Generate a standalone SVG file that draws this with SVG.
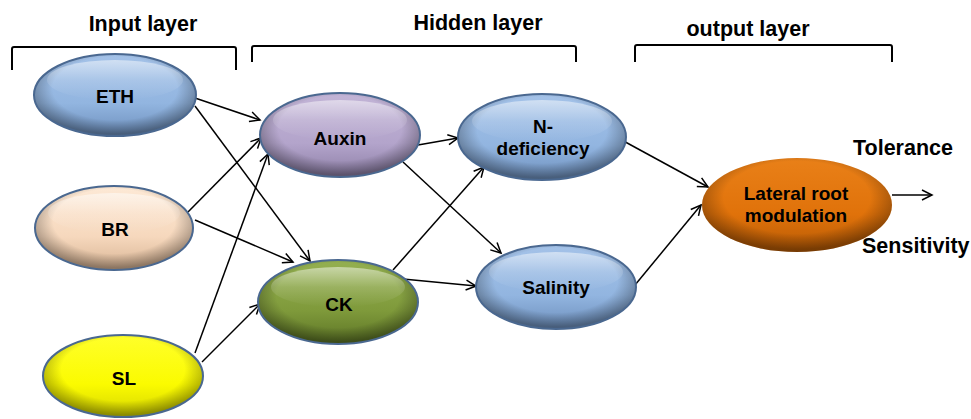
<svg xmlns="http://www.w3.org/2000/svg" width="971" height="419" viewBox="0 0 971 419">
<style>
text{font-family:"Liberation Sans",Arial,sans-serif;font-weight:bold;fill:#000}
.title{font-size:21.5px}
.lbl{font-size:19px;text-anchor:middle}
.brk{fill:none;stroke:#000;stroke-width:2}
.rim{fill:none;stroke:#4a6890;stroke-width:2}
.hl{fill:url(#hi)}
.con line{stroke:#000;stroke-width:1.5;marker-end:url(#arr)}
</style>
<defs>
<marker id="arr" markerUnits="userSpaceOnUse" markerWidth="14" markerHeight="14" refX="11" refY="6" orient="auto">
<path d="M1,1 L11,6 L1,11" fill="none" stroke="#000" stroke-width="1.5"/>
</marker>
<linearGradient id="gBlue" x1="0" y1="0" x2="0" y2="1"><stop offset="0" stop-color="#a4c2e8"/><stop offset="0.6" stop-color="#92b5e0"/><stop offset="1" stop-color="#6d8fbc"/></linearGradient>
<linearGradient id="gLav" x1="0" y1="0" x2="0" y2="1"><stop offset="0" stop-color="#c2b4d6"/><stop offset="0.6" stop-color="#b3a4cb"/><stop offset="1" stop-color="#8d7fa6"/></linearGradient>
<linearGradient id="gPeach" x1="0" y1="0" x2="0" y2="1"><stop offset="0" stop-color="#fde9d6"/><stop offset="0.6" stop-color="#f6d8bd"/><stop offset="1" stop-color="#d8b494"/></linearGradient>
<linearGradient id="gGreen" x1="0" y1="0" x2="0" y2="1"><stop offset="0" stop-color="#94b050"/><stop offset="0.6" stop-color="#7f9a3b"/><stop offset="1" stop-color="#5c7425"/></linearGradient>
<linearGradient id="gYellow" x1="0" y1="0" x2="0" y2="1"><stop offset="0" stop-color="#ffff2a"/><stop offset="0.6" stop-color="#fbfb00"/><stop offset="1" stop-color="#d6d600"/></linearGradient>
<linearGradient id="gOrange" x1="0" y1="0" x2="0" y2="1"><stop offset="0" stop-color="#e98018"/><stop offset="0.6" stop-color="#e0720a"/><stop offset="1" stop-color="#b65a05"/></linearGradient>
<radialGradient id="shade" cx="0.5" cy="0.42" r="0.55"><stop offset="0.7" stop-color="#000" stop-opacity="0"/><stop offset="1" stop-color="#000" stop-opacity="0.35"/></radialGradient>
<linearGradient id="hi" x1="0" y1="0" x2="0" y2="1"><stop offset="0" stop-color="#fff" stop-opacity="0.5"/><stop offset="0.5" stop-color="#fff" stop-opacity="0.15"/><stop offset="1" stop-color="#fff" stop-opacity="0"/></linearGradient>
</defs>
<rect width="971" height="419" fill="#fff"/>
<g id="headers">
<text class="title" x="143" y="31" text-anchor="middle">Input layer</text>
<text class="title" x="478" y="30" text-anchor="middle">Hidden layer</text>
<text class="title" x="748" y="36" text-anchor="middle">output layer</text>
<path class="brk" d="M12,70 V49 Q12,47 14,47 H234 Q236,47 236,49 V70"/>
<path class="brk" d="M252,62 V48 Q252,46 254,46 H574 Q576,46 576,48 V62"/>
<path class="brk" d="M635,62 V47 Q635,45 637,45 H890 Q892,45 892,47 V62"/>
</g>
<g class="con" id="connectors">
<line x1="195" y1="98" x2="260" y2="120"/>
<line x1="195" y1="106" x2="310" y2="261"/>
<line x1="188" y1="212" x2="261" y2="138"/>
<line x1="195" y1="220" x2="293" y2="262"/>
<line x1="195" y1="353" x2="268" y2="154"/>
<line x1="202" y1="362" x2="260" y2="304"/>
<line x1="418" y1="145" x2="458" y2="138"/>
<line x1="403" y1="162" x2="501" y2="253"/>
<line x1="393" y1="270" x2="484" y2="167"/>
<line x1="403" y1="279" x2="476" y2="286"/>
<line x1="618" y1="138" x2="708" y2="187"/>
<line x1="635" y1="285" x2="701" y2="205"/>
<line x1="892" y1="195" x2="932" y2="195"/>
</g>
<g id="eth">
<ellipse cx="115" cy="95" rx="81" ry="41" fill="url(#gBlue)"/><ellipse cx="115" cy="95" rx="81" ry="41" fill="url(#shade)"/><ellipse class="hl" cx="115" cy="80" rx="68" ry="20"/><ellipse class="rim" cx="115" cy="95" rx="81" ry="41"/>
<text class="lbl" x="115" y="103">ETH</text>
</g>
<g id="br">
<ellipse cx="114" cy="228" rx="79" ry="42" fill="url(#gPeach)"/><ellipse cx="114" cy="228" rx="79" ry="42" fill="url(#shade)"/><ellipse class="hl" cx="114" cy="213" rx="66" ry="20"/><ellipse class="rim" cx="114" cy="228" rx="79" ry="42"/>
<text class="lbl" x="115" y="236">BR</text>
</g>
<g id="sl">
<ellipse cx="123" cy="376" rx="80" ry="41" fill="url(#gYellow)"/><ellipse cx="123" cy="376" rx="80" ry="41" fill="url(#shade)"/><ellipse class="rim" cx="123" cy="376" rx="80" ry="41"/>
<text class="lbl" x="124" y="385">SL</text>
</g>
<g id="auxin">
<ellipse cx="340" cy="135" rx="80" ry="42" fill="url(#gLav)"/><ellipse cx="340" cy="135" rx="80" ry="42" fill="url(#shade)"/><ellipse class="hl" cx="340" cy="120" rx="67" ry="20"/><ellipse class="rim" cx="340" cy="135" rx="80" ry="42"/>
<text class="lbl" x="340" y="145">Auxin</text>
</g>
<g id="ck">
<ellipse cx="338" cy="302" rx="80" ry="42" fill="url(#gGreen)"/><ellipse cx="338" cy="302" rx="80" ry="42" fill="url(#shade)"/><ellipse class="hl" cx="338" cy="287" rx="67" ry="20"/><ellipse class="rim" cx="338" cy="302" rx="80" ry="42"/>
<text class="lbl" x="339" y="311">CK</text>
</g>
<g id="ndef">
<ellipse cx="542" cy="137" rx="84" ry="43" fill="url(#gBlue)"/><ellipse cx="542" cy="137" rx="84" ry="43" fill="url(#shade)"/><ellipse class="hl" cx="542" cy="121" rx="70" ry="21"/><ellipse class="rim" cx="542" cy="137" rx="84" ry="43"/>
<text class="lbl" x="543" y="133">N-</text>
<text class="lbl" x="543" y="155">deficiency</text>
</g>
<g id="salinity">
<ellipse cx="556" cy="287" rx="80" ry="42" fill="url(#gBlue)"/><ellipse cx="556" cy="287" rx="80" ry="42" fill="url(#shade)"/><ellipse class="hl" cx="556" cy="272" rx="67" ry="20"/><ellipse class="rim" cx="556" cy="287" rx="80" ry="42"/>
<text class="lbl" x="556" y="294">Salinity</text>
</g>
<g id="lateral">
<ellipse cx="797" cy="205" rx="95" ry="47" fill="url(#gOrange)"/><ellipse cx="797" cy="205" rx="95" ry="47" fill="url(#shade)"/>
<text class="lbl" x="796" y="200">Lateral root</text>
<text class="lbl" x="796" y="222">modulation</text>
</g>
<g id="outputs">
<text class="title" x="853" y="155">Tolerance</text>
<text class="title" x="862" y="253">Sensitivity</text>
</g>
</svg>
